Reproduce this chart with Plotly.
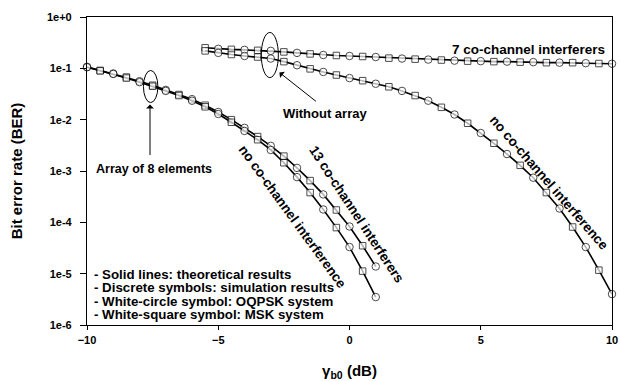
import plotly.graph_objects as go
import numpy as np

# ---------------- data ----------------
gamma_array = [-10, -9.5, -9, -8.5, -8, -7.5, -7, -6.5, -6, -5.5, -5, -4.5, -4,
               -3.5, -3, -2.5, -2, -1.5, -1, -0.5, 0, 0.5, 1]
ber_array_no_cci = [0.105, 0.0891, 0.0776, 0.0646, 0.0537, 0.0447, 0.0363, 0.0295,
                    0.0234, 0.0178, 0.0129, 0.00891, 0.00603, 0.00407, 0.00257,
                    0.00145, 7.6e-4, 3.8e-4, 1.78e-4, 7.9e-5, 3.3e-5, 1.12e-5, 3.5e-6]
ber_array_13cci = [0.107, 0.0912, 0.0794, 0.0676, 0.0562, 0.0468, 0.0380, 0.0309,
                   0.0251, 0.0191, 0.0141, 0.0100, 0.00692, 0.00468, 0.00309,
                   0.00195, 0.00115, 6.5e-4, 3.5e-4, 1.74e-4, 8.3e-5, 3.5e-5, 1.38e-5]

gamma_noarray = [-5.5, -5, -4.5, -4, -3.5, -3, -2.5, -2, -1.5, -1, -0.5, 0, 0.5, 1,
                 1.5, 2, 2.5, 3, 3.5, 4, 4.5, 5, 5.5, 6, 6.5, 7, 7.5, 8, 8.5, 9, 9.5, 10]
ber_noarray_7cci = [0.251, 0.240, 0.234, 0.229, 0.224, 0.219, 0.209, 0.200, 0.191,
                    0.182, 0.178, 0.174, 0.170, 0.166, 0.158, 0.155, 0.151, 0.148,
                    0.145, 0.141, 0.138, 0.138, 0.135, 0.135, 0.132, 0.132, 0.129,
                    0.129, 0.129, 0.126, 0.124, 0.123]
ber_noarray_no_cci = [0.219, 0.200, 0.186, 0.174, 0.166, 0.155, 0.135, 0.115, 0.0977,
                      0.0851, 0.0741, 0.0646, 0.0575, 0.0501, 0.0437, 0.0363, 0.0295,
                      0.0234, 0.0174, 0.0126, 0.00851, 0.00550, 0.00347, 0.00214,
                      0.00129, 7.4e-4, 3.8e-4, 1.86e-4, 8.1e-5, 3.3e-5, 1.17e-5, 4.0e-6]

y_tick_vals = [1, 1e-1, 1e-2, 1e-3, 1e-4, 1e-5, 1e-6]
y_tick_text = ["1e+0", "1e-1", "1e-2", "1e-3", "1e-4", "1e-5", "1e-6"]
x_tick_vals = [-10, -5, 0, 5, 10]

legend_lines = ["- Solid lines: theoretical results",
                "- Discrete symbols: simulation results",
                "- White-circle symbol: OQPSK system",
                "- White-square symbol: MSK system"]

# ---------------- figure ----------------
FONT = "Liberation Sans, Arial, sans-serif"


def symbols(g):
    return ["circle" if float(v).is_integer() else "square" for v in g]


def sizes(g):
    return [7.5 if float(v).is_integer() else 6.5 for v in g]


fig = go.Figure()
for gx, by in [(gamma_noarray, ber_noarray_7cci), (gamma_noarray, ber_noarray_no_cci),
               (gamma_array, ber_array_13cci), (gamma_array, ber_array_no_cci)]:
    fig.add_trace(go.Scatter(
        x=gx, y=by, mode="lines+markers",
        line=dict(color="black", width=1.6),
        marker=dict(symbol=symbols(gx), size=sizes(gx), color="white",
                    line=dict(color="black", width=1)),
        showlegend=False, hoverinfo="skip", cliponaxis=False))


def tf(size):
    return dict(family=FONT, size=size, color="black", weight="bold")


ann = []
# arrow to array ellipse
ann.append(dict(x=-7.6, y=np.log10(0.0197), xref="x", yref="y", text="",
                showarrow=True, ax=0, ay=52, arrowhead=1, arrowsize=1.3,
                arrowwidth=1, arrowcolor="black"))
ann.append(dict(x=-7.45, y=-2.96, xref="x", yref="y",
                text="Array of 8 elements", showarrow=False, font=tf(12.5)))
# arrow to "without array" ellipse
ann.append(dict(x=-2.67, y=np.log10(0.083), xref="x", yref="y", text="",
                showarrow=True, ax=38, ay=30, arrowhead=1, arrowsize=1.3,
                arrowwidth=1, arrowcolor="black"))
ann.append(dict(x=-0.92, y=-1.88, xref="x", yref="y", text="Without array",
                showarrow=False, font=tf(13)))
ann.append(dict(x=6.8, y=-0.634, xref="x", yref="y", text="7 co-channel interferers",
                showarrow=False, font=tf(13.5)))
ann.append(dict(x=7.6, y=-3.22, xref="x", yref="y", text="no co-channel interference",
                showarrow=False, font=tf(13.5), textangle=49))
ann.append(dict(x=-2.18, y=-3.89, xref="x", yref="y", text="no co-channel interference",
                showarrow=False, font=tf(13.5), textangle=54))
ann.append(dict(x=0.27, y=-3.85, xref="x", yref="y", text="13 co-channel interferers",
                showarrow=False, font=tf(13.5), textangle=56.7))
for i, (line, yd) in enumerate(zip(legend_lines, [5.02, 5.27, 5.54, 5.80])):
    ann.append(dict(x=-9.81, y=-yd, xref="x", yref="y", text=line, xanchor="left",
                    showarrow=False, font=tf(13.3)))

shapes = [
    dict(type="circle", xref="x", yref="y", x0=-7.85, x1=-7.3, y0=0.0215, y1=0.091,
         line=dict(color="black", width=1)),
    dict(type="circle", xref="x", yref="y", x0=-3.36, x1=-2.71, y0=0.066, y1=0.50,
         line=dict(color="black", width=1)),
]

fig.update_layout(
    width=620, height=381,
    margin=dict(l=87, r=8, t=17, b=56),
    paper_bgcolor="white", plot_bgcolor="white",
    font=dict(family=FONT, size=11, color="black"),
    annotations=ann, shapes=shapes,
    xaxis=dict(range=[-10, 10], tickvals=x_tick_vals, ticks="outside", ticklen=4,
               tickcolor="black", showline=True, linecolor="black", linewidth=1.2,
               mirror=True, showgrid=False, zeroline=False, automargin=False,
               tickfont=tf(11), ticklabelstandoff=1, ticklabeloverflow="allow",
               title=dict(text="γ<sub>b0</sub> (dB)", standoff=20, font=tf(15))),
    yaxis=dict(type="log", range=[-6, 0], tickvals=y_tick_vals, ticktext=y_tick_text,
               ticks="outside", ticklen=6, tickcolor="black", showline=True,
               linecolor="black", linewidth=1.2, mirror=True, showgrid=False,
               zeroline=False, ticklabelstandoff=6, automargin=False,
               tickfont=tf(11),
               title=dict(text="Bit error rate (BER)", standoff=20, font=tf(15))),
)

fig.write_html("out.html",
               config={"displayModeBar": False},
               post_script="document.body.style.margin='0';"
                           "document.body.style.overflow='hidden';")
